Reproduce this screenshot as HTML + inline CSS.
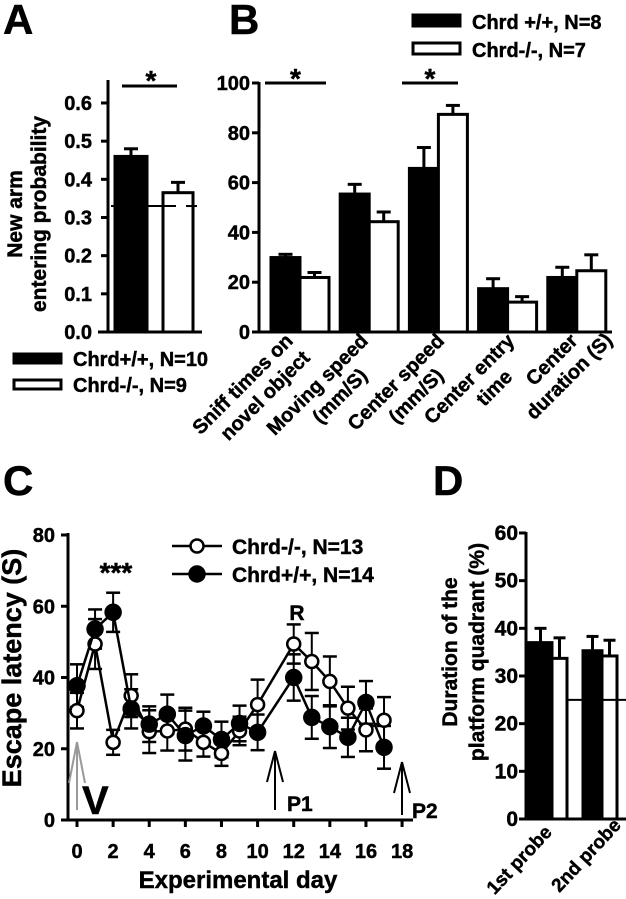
<!DOCTYPE html>
<html><head><meta charset="utf-8"><style>
html,body{margin:0;padding:0;background:#fff;}
svg{display:block;font-family:"Liberation Sans",Arial,sans-serif;font-weight:bold;}
text{font-weight:bold;stroke:#000;stroke-width:0.45px;}
</style></head><body>
<svg id="fig" width="626" height="899" viewBox="0 0 626 899" xmlns="http://www.w3.org/2000/svg">
<g id="pa"></g>
<g id="pb"></g>
<g id="pc"></g>
<g id="pd"></g>
</svg>
<script>
// Panel A data
const aGroups = ["Chrd+/+, N=10", "Chrd-/-, N=9"];
const aValues = [0.46, 0.365];
const aErrors = [0.02, 0.027];
const aTicks = ["0.0","0.1","0.2","0.3","0.4","0.5","0.6"];
const aChance = [0.33];
// Panel B data
const bCategories = [["Sniff times on","novel object"],["Moving speed","(mm/S)"],["Center speed","(mm/S)"],["Center entry","time"],["Center","duration (S)"]];
const bWT = [29.9, 55.4, 65.7, 17.4, 21.9];
const bWTerr = [1.3, 3.9, 8.4, 4.0, 4.1];
const bKO = [21.9, 44.3, 87.4, 12.0, 24.6];
const bKOerr = [2.0, 3.9, 3.6, 2.2, 6.4];
const bTicks = ["0","20","40","60","80","100"];
const bLegend = ["Chrd +/+, N=8", "Chrd-/-, N=7"];
// Panel C data
const cDays = [0,1,2,3,4,5,6,7,8,9,10,12,13,14,15,16,17];
const cKO = [30.7,49.4,21.8,34.9,24.8,25,25.5,21.8,18.7,25,32.4,49.4,44.5,38.9,31.4,25.3,28];
const cKOerr = [5,7,3.5,6,6,5.5,6,4,3.5,4,7,5.5,8,7,6,6,6.5];
const cWT = [37.7,53.6,58.3,31.2,26.9,29.7,23.7,26.4,22.6,27.1,24.6,40,28.8,26.2,23.2,33,20.4];
const cWTerr = [6,5.5,5.5,5.5,5,5.5,7,4,5,5,5,6.5,6,6,5.5,6,6];
const cXTicks = ["0","2","4","6","8","10","12","14","16","18"];
const cYTicks = ["0","20","40","60","80"];
const cLegend = ["Chrd-/-, N=13", "Chrd+/+, N=14"];
// Panel D data
const dCategories = ["1st probe", "2nd probe"];
const dWT = [37, 35.3];
const dWTerr = [3, 3];
const dKO = [33.7, 34.2];
const dKOerr = [4.3, 3.3];
const dTicks = ["0","10","20","30","40","50","60"];
const dChance = [25];

const NS="http://www.w3.org/2000/svg";
function mk(parent, tag, attrs, text){
  const e=document.createElementNS(NS,tag);
  for(const k in attrs) e.setAttribute(k,attrs[k]);
  if(text!==undefined) e.textContent=text;
  parent.appendChild(e); return e;
}
function ln(p,x1,y1,x2,y2,w,c){return mk(p,'line',{x1,y1,x2,y2,stroke:c||'#000','stroke-width':w||3});}

/* ---------- Panel A ---------- */
(function(){
  const g=document.getElementById('pa');
  const ya=v=>332-v*381.7;
  const L=mk(g,'text',{x:3,y:34,'font-size':42},'A');
  
  const yax=ln(g,108,80,108,333);
  
  const xax=ln(g,98,332,202,332);
  
  aTicks.forEach(t=>{
    const y=ya(parseFloat(t));
    ln(g,101,y,108,y,3);
    const tx=mk(g,'text',{x:92,y:y+7,'font-size':20,'text-anchor':'end'},t);
    
  });
  const xs=[[115,147],[163,193]];
  aValues.forEach((v,i)=>{
    const [x0,x1]=xs[i];
    const top=ya(v), et=ya(v+aErrors[i]), cx=(x0+x1)/2;
    ln(g,cx,top,cx,et,3); ln(g,cx-7,et,cx+7,et,3);
    const r=mk(g,'rect',{x:x0,y:top,width:x1-x0,height:332-top,fill:i?'#fff':'#000',stroke:'#000','stroke-width':3});
    
  });
  const cy=ya(aChance[0]);
  ln(g,111,cy,116,cy,2); ln(g,186,cy,197,cy,2);
  const ch=ln(g,148,cy,176,cy,2);
  
  ln(g,122,86,177,86,3);
  const st=mk(g,'text',{x:151,y:90,'font-size':28,'text-anchor':'middle'},'*');
  
  const yt=mk(g,'text',{transform:'translate(22,214) rotate(-90)','font-size':21,'text-anchor':'middle'});
  
  mk(yt,'tspan',{x:0,y:0},'New arm'); mk(yt,'tspan',{x:0,y:24},'entering probability');
  aGroups.forEach((t,i)=>{
    const y=354+i*26;
    const r=mk(g,'rect',{x:14,y:y,width:47,height:9,fill:i?'#fff':'#000',stroke:'#000','stroke-width':3});
    
    const tx=mk(g,'text',{x:73,y:y+12,'font-size':20},t);
    
  });
})();

/* ---------- Panel B ---------- */
(function(){
  const g=document.getElementById('pb');
  const yb=v=>332-v*2.49;
  const L=mk(g,'text',{x:229,y:34,'font-size':42},'B');
  
  const yax=ln(g,259,82,259,333);
  
  const xax=ln(g,258,332,612,332);
  
  bTicks.forEach(t=>{
    const y=yb(parseFloat(t));
    ln(g,252,y,259,y,3);
    const tx=mk(g,'text',{x:250,y:y+7,'font-size':20,'text-anchor':'end'},t);
    
  });
  const x0=271, gw=69.2, bw=29;
  const lab1dx=[23,29,36,37,31], lab2dx=[0,-25,-25,-27,25];
  bCategories.forEach((c,i)=>{
    const gx=x0+i*gw;
    [[bWT,bWTerr,'#000'],[bKO,bKOerr,'#fff']].forEach((s,j)=>{
      const v=s[0][i], e=s[1][i], bx=gx+j*bw, top=yb(v), et=yb(v+e), cx=bx+bw/2;
      ln(g,cx,top,cx,et,3); ln(g,cx-7,et,cx+7,et,3);
      const r=mk(g,'rect',{x:bx,y:top,width:bw,height:332-top,fill:s[2],stroke:'#000','stroke-width':3});
      
    });
    const tx=mk(g,'text',{transform:`translate(${gx+lab1dx[i]},${342}) rotate(-45)`,'font-size':20,'text-anchor':'end'});
    
    mk(tx,'tspan',{x:0,y:0},c[0]);
    mk(tx,'tspan',{x:lab2dx[i],y:24},c[1]);
  });
  [[265,326],[402,458]].forEach(s=>{
    ln(g,s[0],83,s[1],83,3);
    const st=mk(g,'text',{x:(s[0]+s[1])/2,y:88,'font-size':28,'text-anchor':'middle'},'*');
    
  });
  bLegend.forEach((t,i)=>{
    const y=15+i*28;
    const r=mk(g,'rect',{x:413,y:y,width:47,height:11,fill:i?'#fff':'#000',stroke:'#000','stroke-width':3});
    
    const tx=mk(g,'text',{x:472,y:y+14,'font-size':20},t);
    
  });
})();

/* ---------- Panel C ---------- */
(function(){
  const g=document.getElementById('pc');
  const yc=v=>820-v*3.5625;
  const xc=d=>77+d*18.06;
  const L=mk(g,'text',{x:3,y:495,'font-size':42},'C');
  
  const yax=ln(g,68,533,68,821);
  
  const xax=ln(g,67,820,413,820);
  
  cYTicks.forEach(t=>{
    const y=yc(parseFloat(t));
    ln(g,61,y,68,y,3);
    const tx=mk(g,'text',{x:55,y:y+7,'font-size':20,'text-anchor':'end'},t);
    
  });
  cXTicks.forEach(t=>{
    const x=xc(parseFloat(t));
    ln(g,x,820,x,827,3);
    const tx=mk(g,'text',{x:x,y:858,'font-size':20,'text-anchor':'middle'},t);
    
  });
  const xt=mk(g,'text',{x:238,y:888,'font-size':24,'text-anchor':'middle'},'Experimental day');
  
  const yt=mk(g,'text',{transform:'translate(21,668) rotate(-90)','font-size':27,'text-anchor':'middle'},'Escape latency (S)');
  
  [[cKO,cKOerr],[cWT,cWTerr]].forEach(s=>{
    cDays.forEach((d,i)=>{
      const x=xc(d), lo=yc(s[0][i]-s[1][i]), hi=yc(s[0][i]+s[1][i]);
      ln(g,x,lo,x,hi,2); ln(g,x-7,lo,x+7,lo,2.5); ln(g,x-7,hi,x+7,hi,2.5);
    });
  });
  function series(vals,fill,name){
    let d='';
    cDays.forEach((day,i)=>{d+=(i?'L':'M')+xc(day)+','+yc(vals[i]);});
    const p=mk(g,'path',{d:d,fill:'none',stroke:'#000','stroke-width':2.5});
    
    cDays.forEach((day,i)=>{
      const c=mk(g,'circle',{cx:xc(day),cy:yc(vals[i]),r:fill=='#fff'?6.5:7.5,fill:fill,stroke:'#000','stroke-width':2.5});
      
    });
  }
  series(cKO,'#fff','chrd-ko');
  series(cWT,'#000','chrd-wt');
  cLegend.forEach((t,i)=>{
    const y=546+i*28;
    ln(g,172,y,222,y,2.5);
    const c=mk(g,'circle',{cx:197,cy:y,r:i?7.5:6.5,fill:i?'#000':'#fff',stroke:'#000','stroke-width':2.5});
    
    const tx=mk(g,'text',{x:232,y:y+8,'font-size':21},t);
    
  });
  const st=mk(g,'text',{x:116,y:582,'font-size':28,'text-anchor':'middle'},'***');
  
  const R=mk(g,'text',{x:297,y:620,'font-size':21,'text-anchor':'middle'},'R');
  
  function arrow(x,y0,y1,hy,col,name){
    const a=mk(g,'g',{});
    
    ln(a,x,y0,x,y1,2,col); ln(a,x,y1,x-8,hy,2,col); ln(a,x,y1,x+8,hy,2,col);
  }
  arrow(77,810,742,783,'#999','v-arrow');
  arrow(275,810,751,782,'#000','p1-arrow');
  arrow(402,815,762,793,'#000','p2-arrow');
  const V=mk(g,'text',{x:82,y:814,'font-size':40},'V');
  
  const P1=mk(g,'text',{x:287,y:811,'font-size':21},'P1');
  
  const P2=mk(g,'text',{x:412,y:818,'font-size':21},'P2');
  
})();

/* ---------- Panel D ---------- */
(function(){
  const g=document.getElementById('pd');
  const yd=v=>819-v*4.767;
  const L=mk(g,'text',{x:433,y:495,'font-size':42},'D');
  
  const yax=ln(g,526,532,526,820);
  
  const xax=ln(g,520,819,626,819);
  
  dTicks.forEach(t=>{
    const y=yd(parseFloat(t));
    ln(g,519,y,526,y,3);
    const tx=mk(g,'text',{x:518,y:y+7,'font-size':21,'text-anchor':'end'},t);
    
  });
  const gx=[529,583];
  dCategories.forEach((c,i)=>{
    [[dWT,dWTerr,'#000',0],[dKO,dKOerr,'#fff',1]].forEach(s=>{
      const v=s[0][i], e=s[1][i], j=s[3];
      const bx=gx[i]+(j?(i?19:23):0), w=j?15:(i?19:23);
      const top=yd(v), et=yd(v+e), cx=bx+w/2;
      ln(g,cx,top,cx,et,3); ln(g,cx-6,et,cx+6,et,3);
      const r=mk(g,'rect',{x:bx,y:top,width:w,height:819-top,fill:s[2],stroke:'#000','stroke-width':3});
      
    });
    const tx=mk(g,'text',{transform:`translate(${i?622:553},${i?826:833}) rotate(-47)`,'font-size':19,'text-anchor':'end'},c);
    
  });
  const cy=yd(dChance[0]);
  ln(g,527,cy,553,cy,2); ln(g,568,cy,626,cy,2);
  const yt=mk(g,'text',{transform:'translate(457,652) rotate(-90)','font-size':21,'text-anchor':'middle'});
  
  mk(yt,'tspan',{x:0,y:0},'Duration of the'); mk(yt,'tspan',{x:0,y:27},'platform quadrant (%)');
})();
</script>
</body></html>
